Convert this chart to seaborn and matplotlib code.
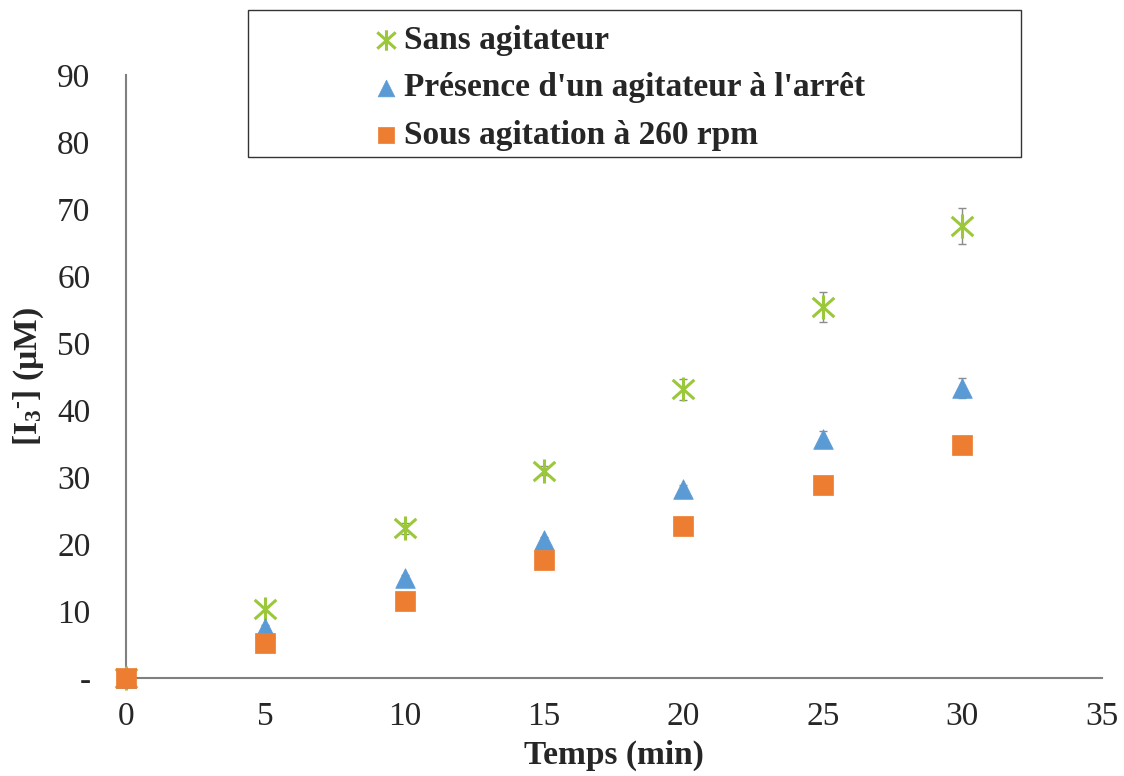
import seaborn as sns
import matplotlib.pyplot as plt
from matplotlib.patches import Rectangle
from matplotlib.path import Path
import pandas as pd

# données
temps = [0, 5, 10, 15, 20, 25, 30]
sans_agit = [0, 10.3, 22.4, 31.0, 43.1, 55.4, 67.5]
sans_err = [0, 0.3, 0.8, 0.7, 1.5, 2.2, 2.7]
arret = [0, 7.5, 14.9, 20.6, 28.2, 35.7, 43.3]
arret_err = [0, 0.5, 0.5, 0.5, 0.7, 1.2, 1.5]
agit_260 = [0, 5.2, 11.6, 17.6, 22.7, 28.8, 34.8]
agit_err = [0, 0.3, 0.4, 0.5, 0.5, 0.6, 0.7]

labels = ["Sans agitateur", "Présence d'un agitateur à l'arrêt", "Sous agitation à 260 rpm"]
couleurs = ["#9BC83A", "#5B9BD5", "#ED7D31"]

# astérisque façon Excel (barre verticale + X)
etoile = Path([(0, -1), (0, 1), (-0.9, -0.8), (0.9, 0.8), (-0.9, 0.8), (0.9, -0.8)],
              [Path.MOVETO, Path.LINETO, Path.MOVETO, Path.LINETO, Path.MOVETO, Path.LINETO])
marqueurs = [etoile, "^", "s"]
tailles = [300, 200, 190]
epaisseurs = [2.2, 0.5, 0.5]

sns.set_style("white")
plt.rcParams['font.family'] = ['Liberation Serif', 'DejaVu Serif']
plt.rcParams['mathtext.fontset'] = 'custom'
plt.rcParams['mathtext.rm'] = 'Liberation Serif:bold'
plt.rcParams['mathtext.it'] = 'Liberation Serif:bold'
plt.rcParams['mathtext.bf'] = 'Liberation Serif:bold'

df = pd.DataFrame({
    "temps": temps * 3,
    "conc": sans_agit + arret + agit_260,
    "err": sans_err + arret_err + agit_err,
    "serie": [labels[0]] * 7 + [labels[1]] * 7 + [labels[2]] * 7,
})

fig = plt.figure(figsize=(11.24, 7.76), dpi=100)
ax = fig.add_axes([0.112, 0.126, 0.868, 0.777])

for lab, col, mk, sz, lw in zip(labels, couleurs, marqueurs, tailles, epaisseurs):
    sub = df[df["serie"] == lab]
    ax.errorbar(sub["temps"], sub["conc"], yerr=sub["err"], fmt="none",
                ecolor="#8c8c8c", elinewidth=1, capsize=3, zorder=2)
    sns.scatterplot(data=sub, x="temps", y="conc", marker=mk, s=sz,
                    color=col, edgecolor=col, linewidth=lw, label=lab,
                    ax=ax, zorder=3, clip_on=False)

ax.set_xlim(0, 35)
ax.set_ylim(0, 90)
ax.set_xticks(range(0, 36, 5))
ax.set_yticks(range(0, 91, 10))
ax.set_yticklabels(["-"] + [str(v) for v in range(10, 91, 10)])
ax.tick_params(axis="both", labelsize=24, direction="inout", length=15,
               width=1.2, color="#333333")
ax.tick_params(axis="x", pad=9)
ax.tick_params(axis="y", pad=18)
for s in ["top", "right"]:
    ax.spines[s].set_visible(False)
for s in ["left", "bottom"]:
    ax.spines[s].set_color("#808080")
    ax.spines[s].set_linewidth(1.5)

ax.set_xlabel("Temps (min)", fontsize=24, fontweight="bold", labelpad=6)
ax.set_ylabel(r"[I$_3$$^{\text{-}}$] (µM)", fontsize=24, fontweight="bold", labelpad=8)

# cadre de la légende
fig.patches.append(Rectangle((248 / 1124, 1 - 157 / 776), 773 / 1124, 147 / 776,
                             transform=fig.transFigure, fill=False,
                             edgecolor="#333333", linewidth=1))
leg = ax.legend(loc="upper left", bbox_to_anchor=(356 / 1124, 1 - 8 / 776),
                bbox_transform=fig.transFigure, frameon=False, borderpad=0,
                prop={"size": 24, "weight": "bold"}, handletextpad=0.15,
                labelspacing=0.5, markerscale=0.85, handlelength=0.8)

fig.savefig("out.png", dpi=100)
